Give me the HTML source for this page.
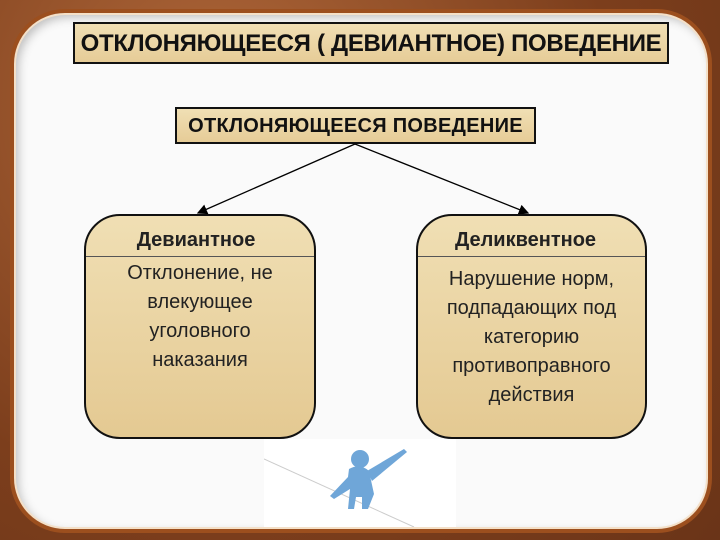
<!DOCTYPE html>
<html><head><meta charset="utf-8"><style>
body{margin:0;width:720px;height:540px;overflow:hidden;background:#8a4a22;position:relative;font-family:"Liberation Sans","DejaVu Sans",sans-serif}
.bg{position:absolute;inset:0;background:radial-gradient(circle at 30% 20%,#b0683a,#7c3e1c 60%,#6a3418)}
.panel{position:absolute;left:10px;top:9px;width:694px;height:516px;border-radius:55px;background:#fafafa;border:4px solid #9c4f1e;box-shadow:0 0 0 2px #f4e0c8 inset, inset 4px 4px 10px rgba(0,0,0,.25)}
.box{position:absolute;background:linear-gradient(#f0dfb4,#e6cc97);border:2px solid #111;box-sizing:border-box;text-align:center;font-weight:bold;color:#111;white-space:nowrap}
.rbox{position:absolute;background:linear-gradient(#f0dfb4,#e4c992);border:2px solid #111;border-radius:36px;box-sizing:border-box;text-align:center;color:#222}
.hdr{font-weight:bold;font-size:20px;height:40px;line-height:48px;border-bottom:1px solid #555}
.txt{font-size:20px;line-height:29px;margin-top:2px}
</style></head><body>
<div class="bg"></div>
<div class="panel"></div>
<div class="box" style="left:73px;top:22px;width:596px;height:42px;font-size:24px;line-height:40px;letter-spacing:-0.3px">ОТКЛОНЯЮЩЕЕСЯ ( ДЕВИАНТНОЕ) ПОВЕДЕНИЕ</div>
<div class="box" style="left:175px;top:107px;width:361px;height:37px;font-size:20px;line-height:35px;letter-spacing:0.3px">ОТКЛОНЯЮЩЕЕСЯ ПОВЕДЕНИЕ</div>
<svg style="position:absolute;left:0;top:0" width="720" height="540">
<defs><marker id="a" markerWidth="8" markerHeight="8" refX="7" refY="4" orient="auto"><path d="M0,0L8,4L0,8z" fill="#000"/></marker></defs>
<line x1="355" y1="144" x2="198" y2="213" stroke="#000" stroke-width="1.3" marker-end="url(#a)"/>
<line x1="355" y1="144" x2="528" y2="213" stroke="#000" stroke-width="1.3" marker-end="url(#a)"/>
</svg>
<div class="rbox" style="left:84px;top:214px;width:232px;height:225px"><div class="hdr" style="padding-right:8px">Девиантное</div><div class="txt">Отклонение, не<br>влекующее<br>уголовного<br>наказания</div></div>
<div class="rbox" style="left:416px;top:214px;width:231px;height:225px"><div class="hdr" style="padding-right:12px">Деликвентное</div><div class="txt" style="margin-top:8px">Нарушение норм,<br>подпадающих под<br>категорию<br>противоправного<br>действия</div></div>
<div style="position:absolute;left:264px;top:439px;width:192px;height:88px;background:#fff">
<svg width="192" height="88"><line x1="0" y1="20" x2="150" y2="88" stroke="#ccc" stroke-width="1"/>
<g fill="#6fa6d8"><ellipse cx="96" cy="20" rx="9" ry="9"/><path d="M85,30 Q96,24 105,32 L110,55 L104,70 L98,70 L98,58 L92,58 L90,70 L84,70 L86,50 L70,60 L66,57 L84,38 Z"/><path d="M103,32 L140,10 L143,13 L108,42 Z"/></g></svg></div>
</body></html>
